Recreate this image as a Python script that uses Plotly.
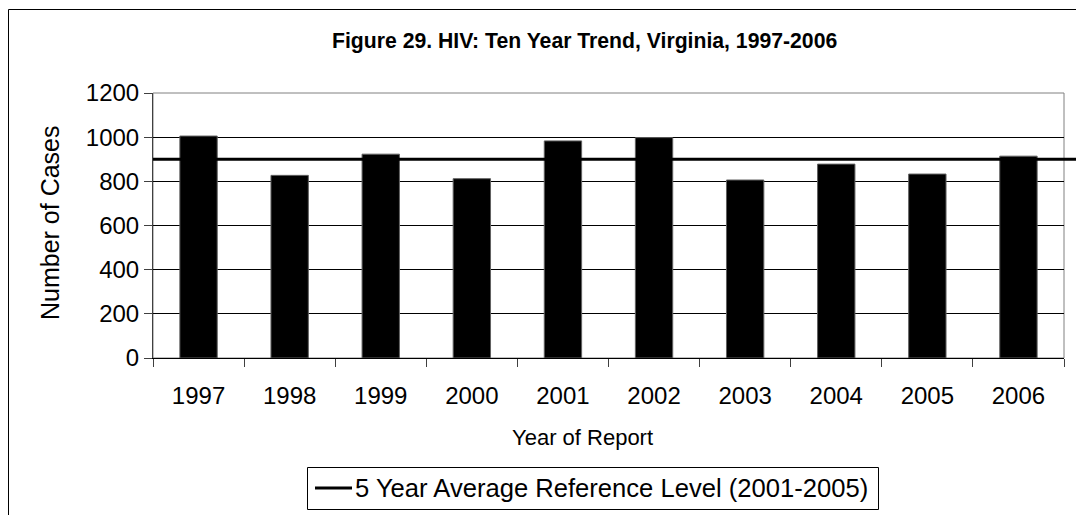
import plotly.graph_objects as go

# Reported HIV cases by year of report
years = ["1997", "1998", "1999", "2000", "2001", "2002", "2003", "2004", "2005", "2006"]
cases = [1005, 827, 923, 812, 983, 998, 806, 878, 833, 914]

# Reference level: average of the five years 2001-2005
ref_years = ["2001", "2002", "2003", "2004", "2005"]
ref_level = sum(cases[years.index(y)] for y in ref_years) / len(ref_years)
ref_label = "5 Year Average Reference Level (2001-2005)"

y_ticks = [0, 200, 400, 600, 800, 1000, 1200]

W, H = 1076, 515
L, R, T, B = 153, 1064, 93, 358  # plot area in pixels
pw, ph = R - L, B - T


def px_x(x):
    return (x - L) / pw


def px_y(y):
    return (B - y) / ph


FONT = "Liberation Sans, Arial, sans-serif"

fig = go.Figure()

fig.add_trace(go.Bar(
    x=years, y=cases,
    width=0.41,
    marker=dict(color="black", line=dict(color="#606060", width=1)),
    showlegend=False,
))

# legend box placed below the axis title
LEG_X0, LEG_X1, LEG_Y0, LEG_Y1 = 307, 878, 467, 509
leg_mid = (LEG_Y0 + LEG_Y1) / 2

shapes = [
    # plot area frame (grey)
    dict(type="rect", xref="paper", yref="paper", x0=0, x1=1, y0=0, y1=1,
         line=dict(color="#808080", width=1), layer="below"),
    # outer chart border
    dict(type="rect", xref="paper", yref="paper",
         x0=px_x(8.5), x1=px_x(W + 20), y0=px_y(H + 20), y1=px_y(9.5),
         line=dict(color="black", width=1)),
    # reference level line
    dict(type="line", xref="paper", yref="y",
         x0=0, x1=px_x(W + 5), y0=ref_level, y1=ref_level,
         line=dict(color="black", width=3), layer="above"),
    # legend frame and key
    dict(type="rect", xref="paper", yref="paper",
         x0=px_x(LEG_X0 + 0.5), x1=px_x(LEG_X1 + 0.5),
         y0=px_y(LEG_Y1 + 0.5), y1=px_y(LEG_Y0 + 0.5),
         line=dict(color="black", width=1), fillcolor="white"),
    dict(type="line", xref="paper", yref="paper",
         x0=px_x(315), x1=px_x(352), y0=px_y(leg_mid), y1=px_y(leg_mid),
         line=dict(color="black", width=3)),
]

annotations = [
    dict(text="<b>Figure 29. HIV: Ten Year Trend, Virginia, 1997-2006</b>",
         xref="paper", yref="paper", x=px_x(584), y=px_y(41),
         showarrow=False, font=dict(size=21.2, color="black", family=FONT),
         xanchor="center", yanchor="middle"),
    dict(text="Year of Report", xref="paper", yref="paper",
         x=px_x(582), y=px_y(437), showarrow=False,
         font=dict(size=22, color="black", family=FONT),
         xanchor="center", yanchor="middle"),
    dict(text="Number of Cases", xref="paper", yref="paper",
         x=px_x(50), y=px_y(223), showarrow=False, textangle=-90,
         font=dict(size=25, color="black", family=FONT),
         xanchor="center", yanchor="middle"),
    dict(text=ref_label, xref="paper", yref="paper",
         x=px_x(353), y=px_y(leg_mid), showarrow=False,
         font=dict(size=25.6, color="black", family=FONT),
         xanchor="left", yanchor="middle"),
]

fig.update_layout(
    width=W, height=H,
    margin=dict(l=L, r=W - R, t=T, b=H - B, pad=0),
    paper_bgcolor="white", plot_bgcolor="white",
    font=dict(family=FONT, size=24, color="black"),
    showlegend=False,
    shapes=shapes,
    annotations=annotations,
    xaxis=dict(
        type="category",
        automargin=False,
        showgrid=False,
        showline=True, linecolor="black", linewidth=1,
        ticks="outside", ticklen=8, tickcolor="#404040",
        tickson="boundaries",
        tickfont=dict(size=24),
        ticklabelstandoff=16,
    ),
    yaxis=dict(
        range=[0, 1200],
        automargin=False,
        tickvals=y_ticks,
        showgrid=True, gridcolor="black", gridwidth=1,
        showline=True, linecolor="#404040", linewidth=1,
        ticks="outside", ticklen=8, tickcolor="#404040",
        tickfont=dict(size=24),
        zeroline=False,
        ticklabelstandoff=0,
    ),
)

fig.write_html("out.html")
